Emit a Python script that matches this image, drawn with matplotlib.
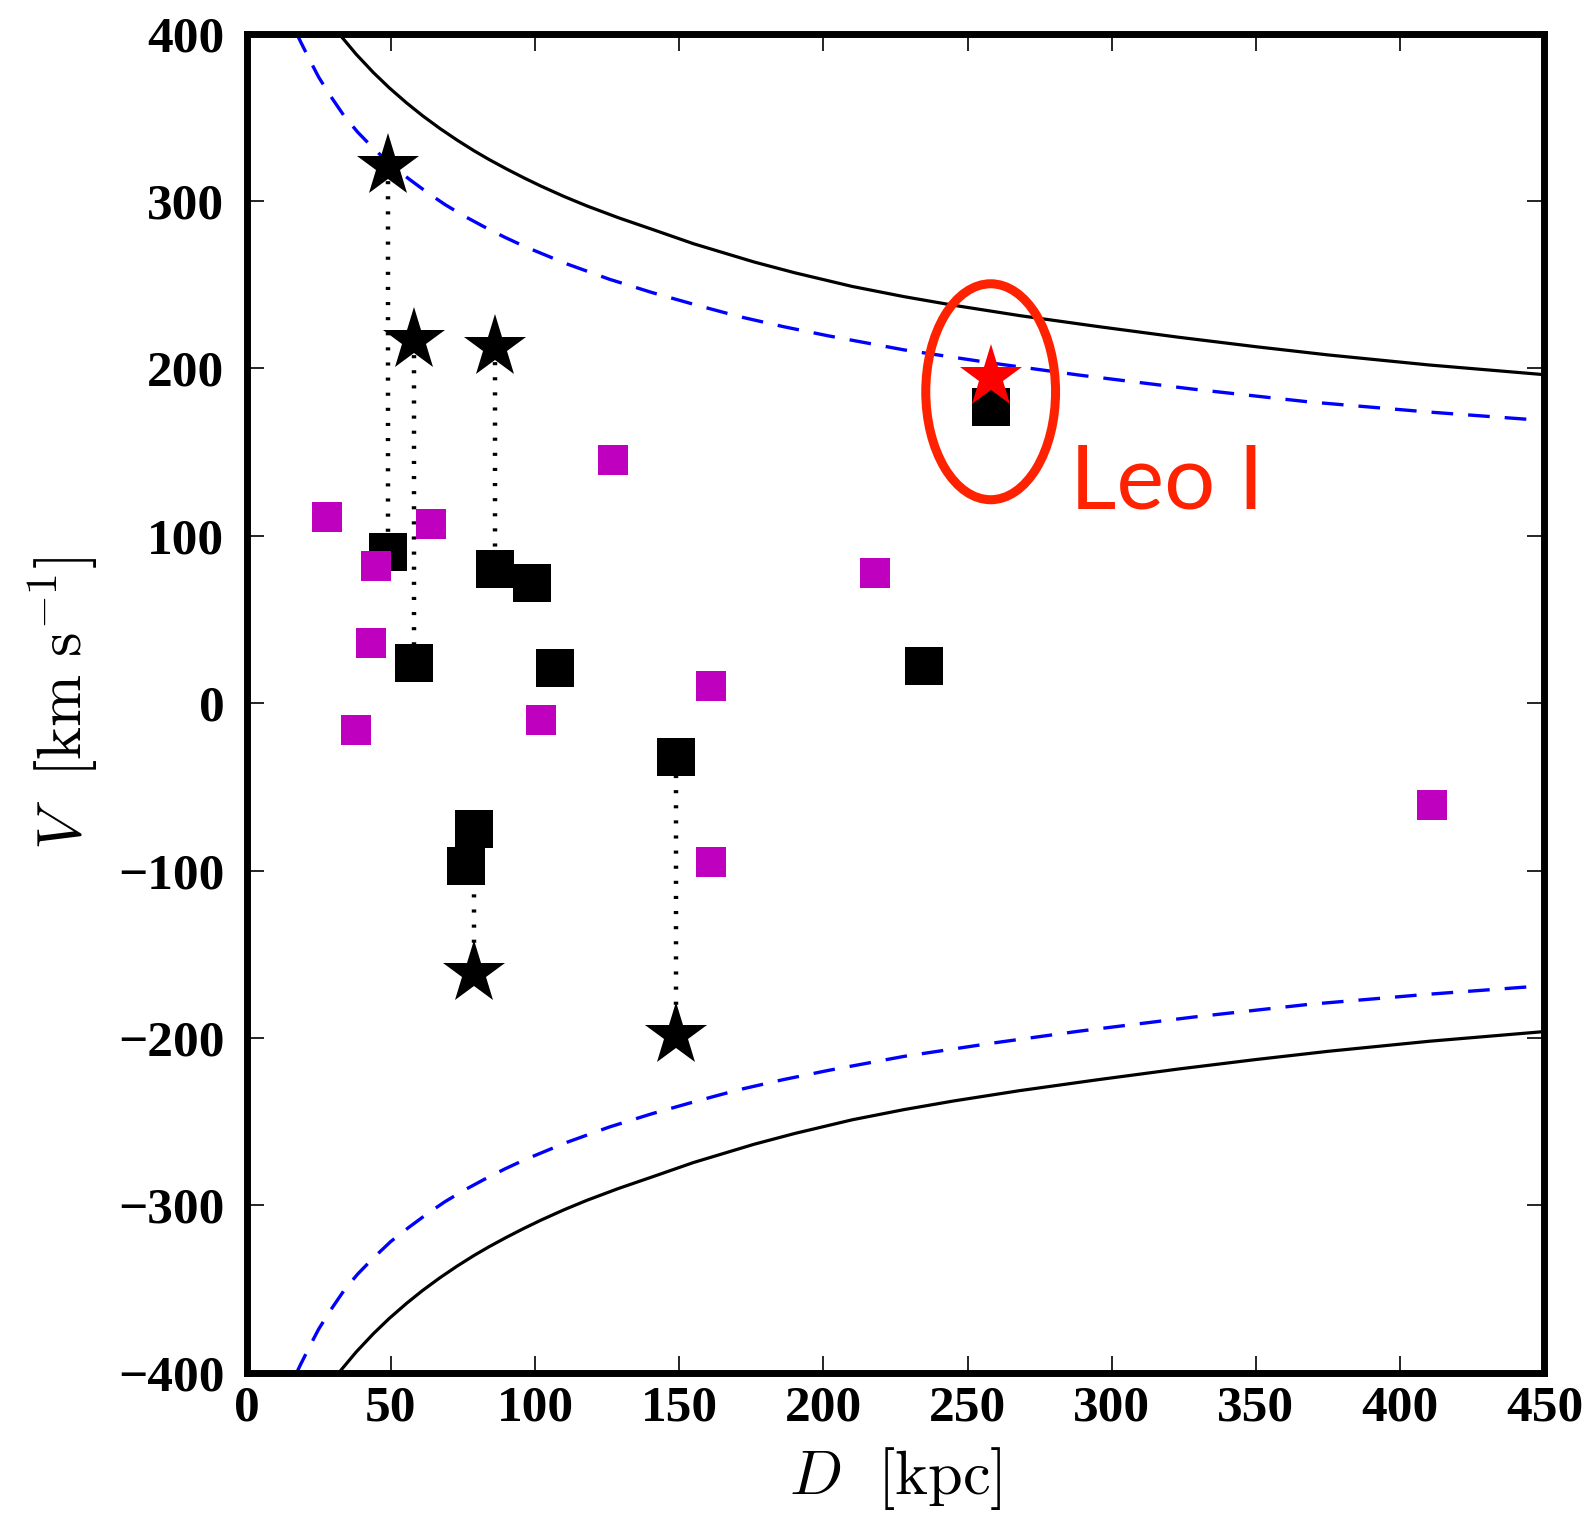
import numpy as np
import matplotlib
matplotlib.use('Agg')
import matplotlib.pyplot as plt
from matplotlib.patches import Ellipse

# escape-velocity curves (upper branch; lower branch is the mirror)
d_solid = [31.5, 32.7, 38, 44, 49.5, 55.5, 61, 67, 73, 79, 84, 90, 96, 102, 110, 118, 129, 141, 155,
           176, 190, 210, 228, 245, 268, 295, 323, 350, 375, 410, 450]
v_solid = [401.2, 398.5, 387.6, 376.6, 367.5, 358.5, 350.9, 343.3, 336.3, 329.8, 324.8, 319.2, 313.9,
           308.9, 302.7, 297.0, 289.9, 282.8, 274.4, 263.5, 257.1, 248.9, 242.8, 237.7, 231.5, 225.0,
           218.6, 212.9, 208.0, 202.0, 196.2]

d_dash = [17.2, 18.8, 22, 25, 29, 33.8, 38.5, 43.8, 50, 56.3, 62.5, 68.8, 75.5, 82.4, 89.5, 96.5, 111,
          125.8, 140.7, 155.7, 170.8, 186.1, 201.7, 228, 259, 288.5, 328, 368, 409, 450]
v_dash = [400.5, 394.8, 383.8, 373.9, 362.9, 350.8, 341.1, 331.7, 321.6, 313.1, 305.2, 297.8, 290.9,
          284.5, 278.3, 272.7, 262.4, 253.2, 245.2, 237.9, 230.9, 224.9, 219.4, 211, 203, 196, 187.6,
          180, 174, 168.8]

# black squares
d_sq = [49, 58, 86, 99, 107, 149, 79, 76, 235, 258]
v_sq = [90, 24, 80, 72, 21, -32, -75, -97, 22, 177]

# magenta squares
d_mag = [28, 45, 43, 38, 64, 127, 102, 161, 161, 218, 411]
v_mag = [111, 82, 36, -16, 107, 145, -10, 10, -95, 78, -61]

# stars and the squares they are joined to
d_star = [49, 58, 86, 79, 149]
v_star = [321, 217, 213, -161, -198]
v_star_sq = [90, 24, 80, -75, -32]

# Leo I
d_leo, v_leo = 258, 195

plt.rcParams['mathtext.fontset'] = 'cm'

fig = plt.figure(figsize=(15.91, 15.16), dpi=100)
ax = fig.add_axes([0.155, 0.0945, 0.8157, 0.8834])

ax.plot(d_solid, v_solid, 'k-', lw=2.3)
ax.plot(d_solid, -np.array(v_solid), 'k-', lw=2.3)
ax.plot(d_dash, v_dash, color='b', lw=2.4, ls=(0, (6.5, 4.5)))
ax.plot(d_dash, -np.array(v_dash), color='b', lw=2.4, ls=(0, (6.5, 4.5)))

for d, v1, v2 in zip(d_star, v_star, v_star_sq):
    ax.plot([d, d], [v1, v2], color='k', lw=3.2, ls=(0, (0.7, 2.7)), zorder=2)

ax.plot(d_sq, v_sq, 's', color='k', ms=27.4, mew=0, zorder=3)
ax.plot(d_mag, v_mag, 's', color='#bf00bf', ms=21.6, mew=0, zorder=4)
ax.plot(d_star, v_star, '*', color='k', ms=47.5, mew=0, zorder=5)
ax.plot([d_leo], [v_leo], '*', color='r', ms=47.5, mew=0, zorder=5)

ax.add_patch(Ellipse((258, 186), 45, 129, fill=False, ec='#ff2200', lw=6.5, zorder=6))
ax.text(285.5, 116.5, 'Leo I', color='#ff2200', fontsize=65, family='Lato',
        ha='left', va='baseline')

ax.set_xlim(0, 450)
ax.set_ylim(-400, 400)
ax.set_xticks(np.arange(0, 451, 50))
ax.set_yticks(np.arange(-400, 401, 100))
ax.set_xticklabels([str(t) for t in range(0, 451, 50)])
ax.set_yticklabels([('\u2212' + str(-t)) if t < 0 else str(t) for t in range(-400, 401, 100)])
ax.tick_params(direction='in', length=12.5, width=1.2, top=True, right=True, pad=9)
ax.tick_params(axis='y', pad=16)
for lab in ax.get_xticklabels() + ax.get_yticklabels():
    lab.set_fontfamily('Liberation Serif')
    lab.set_fontweight('bold')
    lab.set_fontsize(37)
for s in ax.spines.values():
    s.set_linewidth(5)

ax.set_xlabel(r'$D\ \ [\mathrm{kpc}]$', fontsize=45, labelpad=10)
ax.set_ylabel(r'$V\ \ [\mathrm{km\ s^{-1}}]$', fontsize=45, labelpad=12)

fig.savefig('out.png', dpi=100)
